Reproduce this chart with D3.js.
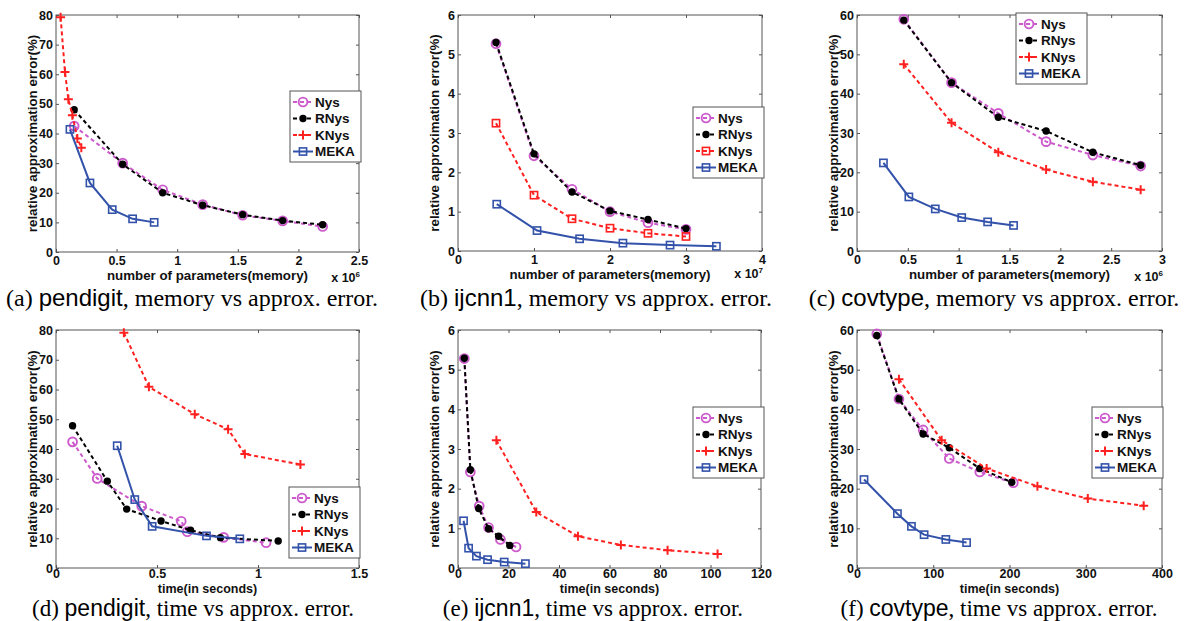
<!DOCTYPE html>
<html><head><meta charset="utf-8">
<script src="https://cdn.jsdelivr.net/npm/d3@7/dist/d3.min.js"></script>
<style>
html,body{margin:0;padding:0;background:#fff;}
svg{display:block;}
</style></head>
<body>
<svg id="chart" width="1185" height="621"></svg>
<script>
// ---------- data ----------
const seriesNames = ["Nys", "RNys", "KNys", "MEKA"];

// (a) pendigit, memory (x 10^6)
const aNys  = [[0.15,42.5],[0.55,30],[0.88,21],[1.21,16],[1.54,12.4],[1.87,10.5],[2.2,8.6]];
const aRNys = [[0.15,48],[0.55,29.6],[0.88,20],[1.21,15.8],[1.54,12.6],[1.87,10.6],[2.2,9.2]];
const aKNys = [[0.038,79.2],[0.074,60.8],[0.102,51.6],[0.135,46.2],[0.176,38.3],[0.209,35.2]];
const aMEKA = [[0.115,41.4],[0.28,23.3],[0.464,14.3],[0.632,11.2],[0.81,10.0]];
// (b) ijcnn1, memory (x 10^7)
const bNys  = [[0.5,5.27],[1,2.42],[1.5,1.57],[2,1.0],[2.5,0.72],[3,0.55]];
const bRNys = [[0.5,5.3],[1,2.47],[1.5,1.5],[2,1.02],[2.5,0.8],[3,0.57]];
const bKNys = [[0.5,3.25],[1,1.42],[1.5,0.82],[2,0.58],[2.5,0.45],[3,0.37]];
const bMEKA = [[0.51,1.19],[1.04,0.52],[1.6,0.31],[2.17,0.2],[2.79,0.15],[3.4,0.12]];
// (c) covtype, memory (x 10^6)
const cNys  = [[0.46,58.9],[0.93,42.8],[1.39,35],[1.86,27.8],[2.32,24.4],[2.79,21.6]];
const cRNys = [[0.46,58.7],[0.93,42.8],[1.39,34],[1.86,30.5],[2.32,25.1],[2.79,21.8]];
const cKNys = [[0.46,47.5],[0.93,32.6],[1.39,25.1],[1.86,20.7],[2.32,17.6],[2.79,15.6]];
const cMEKA = [[0.26,22.4],[0.51,13.75],[0.77,10.7],[1.03,8.5],[1.285,7.4],[1.54,6.5]];
// (d) pendigit, time
const dNys  = [[0.082,42.4],[0.204,30.1],[0.424,20.8],[0.62,15.7],[0.65,12.2],[0.83,10.3],[1.04,8.5]];
const dRNys = [[0.082,47.8],[0.254,29.2],[0.35,19.8],[0.52,15.8],[0.666,12.7],[0.814,10.2],[1.1,9.1]];
const dKNys = [[0.336,79.1],[0.46,60.9],[0.687,51.7],[0.852,46.6],[0.935,38.3],[1.21,34.8]];
const dMEKA = [[0.303,41.1],[0.39,23],[0.476,14.0],[0.745,10.8],[0.91,9.8]];
// (e) ijcnn1, time
const eNys  = [[2.5,5.28],[4.9,2.42],[8.4,1.56],[12.1,1.02],[16.8,0.72],[23,0.53]];
const eRNys = [[2.5,5.29],[4.9,2.48],[8.2,1.5],[12.1,0.99],[16.1,0.8],[20.5,0.57]];
const eKNys = [[15.2,3.22],[31,1.41],[47.5,0.8],[64.5,0.58],[83,0.45],[102.8,0.35]];
const eMEKA = [[2.2,1.19],[4.2,0.5],[7.3,0.3],[11.7,0.21],[18.3,0.15],[26.7,0.11]];
// (f) covtype, time
const fNys  = [[26,59],[55,42.6],[86.7,34.8],[121,27.6],[161,24.2],[205,21.5]];
const fRNys = [[26,58.6],[55,42.6],[86.7,33.8],[121,30.3],[161,25.1],[203,21.6]];
const fKNys = [[55,47.6],[111,32.2],[170,25.1],[236.6,20.6],[302.7,17.5],[376,15.7]];
const fMEKA = [[9.2,22.3],[53,13.7],[71.4,10.5],[88,8.4],[116.5,7.2],[143.7,6.4]];

// tick values
const aXTicks = [0,0.5,1,1.5,2,2.5];
const bXTicks = [0,1,2,3,4];
const cXTicks = [0,0.5,1,1.5,2,2.5,3];
const dXTicks = [0,0.5,1,1.5];
const eXTicks = [0,20,40,60,80,100,120];
const fXTicks = [0,100,200,300,400];
const y80Ticks = [0,10,20,30,40,50,60,70,80];
const y6Ticks  = [0,1,2,3,4,5,6];
const y60Ticks = [0,10,20,30,40,50,60];

const memLabel = "number of parameters(memory)";
const timeLabel = "time(in seconds)";
const yLabel = "relative approximation error(%)";

// ---------- styles ----------
const SANS = "'Liberation Sans', Arial, Helvetica, sans-serif";
const SERIF = "'Liberation Serif', 'Times New Roman', serif";
const style = {
  Nys:  {color:"#cc5acc", dash:"4,3", marker:"circle"},
  RNys: {color:"#000000", dash:"4,3", marker:"dot"},
  KNys: {color:"#ff2020", dash:"4,3", marker:"plus"},
  MEKA: {color:"#3352aa", dash:null,  marker:"square"}
};

// row-level text layout (offsets below plot bottom)
const topRow = {tickPad:4, xlDy:28, xlSize:13.3, capY:306, capSize:24};
const botRow = {tickPad:1.5, xlDy:24.5, xlSize:12.5, capY:616, capSize:23};

const panels = [
  {tag:"(a) ", ds:"pendigit", rest:", memory vs approx. error.", box:[56,15,359,252], xd:[0,2.5], yd:[0,80], xt:aXTicks, yt:y80Ticks, xl:memLabel, row:topRow, mult:"6", multDy:29.5,
   data:{Nys:aNys,RNys:aRNys,KNys:aKNys,MEKA:aMEKA}, leg:[290,91], cap:192},
  {tag:"(b) ", ds:"ijcnn1", rest:", memory vs approx. error.", box:[458,15,762,251], xd:[0,4], yd:[0,6], xt:bXTicks, yt:y6Ticks, xl:memLabel, row:topRow, mult:"7", multDy:27,
   data:{Nys:bNys,RNys:bRNys,KNys:bKNys,MEKA:bMEKA}, leg:[693,107], cap:596, knysMarker:"square"},
  {tag:"(c) ", ds:"covtype", rest:", memory vs approx. error.", box:[857,15,1162,251], xd:[0,3], yd:[0,60], xt:cXTicks, yt:y60Ticks, xl:memLabel, row:topRow, mult:"6", multDy:29.5,
   data:{Nys:cNys,RNys:cRNys,KNys:cKNys,MEKA:cMEKA}, leg:[1016,13], cap:994},
  {tag:"(d) ", ds:"pendigit", rest:", time vs approx. error.", box:[56,330,359,568], xd:[0,1.5], yd:[0,80], xt:dXTicks, yt:y80Ticks, xl:timeLabel, row:botRow, mult:null,
   data:{Nys:dNys,RNys:dRNys,KNys:dKNys,MEKA:dMEKA}, leg:[289,487], cap:193},
  {tag:"(e) ", ds:"ijcnn1", rest:", time vs approx. error.", box:[458,330,761,568], xd:[0,120], yd:[0,6], xt:eXTicks, yt:y6Ticks, xl:timeLabel, row:botRow, mult:null,
   data:{Nys:eNys,RNys:eRNys,KNys:eKNys,MEKA:eMEKA}, leg:[693,407], cap:593},
  {tag:"(f) ", ds:"covtype", rest:", time vs approx. error.", box:[857,330,1162,568], xd:[0,400], yd:[0,60], xt:fXTicks, yt:y60Ticks, xl:timeLabel, row:botRow, mult:null,
   data:{Nys:fNys,RNys:fRNys,KNys:fKNys,MEKA:fMEKA}, leg:[1092,407], cap:999}
];

const svg = d3.select("#chart");
svg.append("rect").attr("width",1185).attr("height",621).attr("fill","#fff");

function drawMarker(g, type, color, cx, cy) {
  if (type === "circle") {
    g.append("circle").attr("cx",cx).attr("cy",cy).attr("r",4.4)
      .attr("fill","none").attr("stroke",color).attr("stroke-width",1.9);
  } else if (type === "dot") {
    g.append("circle").attr("cx",cx).attr("cy",cy).attr("r",3.7).attr("fill",color);
  } else if (type === "plus") {
    g.append("path").attr("d",`M${cx-4.5},${cy}h9M${cx},${cy-4.5}v9`)
      .attr("stroke",color).attr("stroke-width",2).attr("fill","none");
  } else if (type === "square") {
    g.append("rect").attr("x",cx-3.6).attr("y",cy-3.6).attr("width",7.2).attr("height",7.2)
      .attr("fill","none").attr("stroke",color).attr("stroke-width",1.6);
  }
}

panels.forEach(p => {
  const [x0,y0,x1,y1] = p.box;
  const r = p.row;
  const x = d3.scaleLinear().domain(p.xd).range([x0,x1]);
  const y = d3.scaleLinear().domain(p.yd).range([y1,y0]);
  const g = svg.append("g");
  const fmt = d => String(d);

  const axStyle = sel => {
    sel.select(".domain").remove();
    sel.selectAll(".tick line").attr("stroke","#555").attr("stroke-width",1);
    sel.selectAll("text").attr("font-family",SANS).attr("font-weight","bold")
      .attr("font-size",12.5).attr("fill","#111");
  };
  g.append("g").attr("transform",`translate(0,${y1})`)
    .call(d3.axisBottom(x).tickValues(p.xt).tickFormat(fmt).tickSizeInner(-3).tickSizeOuter(0).tickPadding(r.tickPad))
    .call(axStyle);
  g.append("g").attr("transform",`translate(0,${y0})`)
    .call(d3.axisTop(x).tickValues(p.xt).tickFormat("").tickSizeInner(-3).tickSizeOuter(0))
    .call(axStyle);
  g.append("g").attr("transform",`translate(${x0},0)`)
    .call(d3.axisLeft(y).tickValues(p.yt).tickFormat(fmt).tickSizeInner(-3).tickSizeOuter(0).tickPadding(3))
    .call(axStyle);
  g.append("g").attr("transform",`translate(${x1},0)`)
    .call(d3.axisRight(y).tickValues(p.yt).tickFormat("").tickSizeInner(-3).tickSizeOuter(0))
    .call(axStyle);
  g.append("rect").attr("x",x0).attr("y",y0).attr("width",x1-x0).attr("height",y1-y0)
    .attr("fill","none").attr("stroke","#555").attr("stroke-width",1);

  g.append("text").attr("x",(x0+x1)/2).attr("y",y1+r.xlDy).attr("text-anchor","middle")
    .attr("font-family",SANS).attr("font-weight","bold").attr("font-size",r.xlSize).attr("fill","#111")
    .text(p.xl);
  g.append("text").attr("transform",`translate(${x0-19},${(y0+y1)/2}) rotate(-90)`)
    .attr("text-anchor","middle").attr("font-family",SANS).attr("font-weight","bold")
    .attr("font-size",13.3).attr("fill","#111").text(yLabel);
  if (p.mult) {
    const t = g.append("text").attr("x",x1+1).attr("y",y1+p.multDy).attr("text-anchor","end")
      .attr("font-family",SANS).attr("font-weight","bold").attr("font-size",12.5).attr("fill","#111");
    t.append("tspan").text("x 10");
    t.append("tspan").attr("font-size",8).attr("dy",-5).text(p.mult);
  }

  const line = d3.line().x(d => x(d[0])).y(d => y(d[1]));
  seriesNames.forEach(s => {
    const st = style[s];
    const mk = (s === "KNys" && p.knysMarker) ? p.knysMarker : st.marker;
    const pts = p.data[s];
    g.append("path").datum(pts).attr("d",line).attr("fill","none")
      .attr("stroke",st.color).attr("stroke-width",2)
      .attr("stroke-dasharray",st.dash);
    pts.forEach(d => drawMarker(g, mk, st.color, x(d[0]), y(d[1])));
  });

  const [lx,ly] = p.leg;
  const lg = g.append("g");
  lg.append("rect").attr("x",lx).attr("y",ly).attr("width",71).attr("height",71)
    .attr("fill","#fff").attr("stroke","#555").attr("stroke-width",1);
  seriesNames.forEach((s,i) => {
    const st = style[s];
    const mk = (s === "KNys" && p.knysMarker) ? p.knysMarker : st.marker;
    const cy = ly + 11 + i*16.5;
    lg.append("line").attr("x1",lx+3).attr("x2",lx+23).attr("y1",cy).attr("y2",cy)
      .attr("stroke",st.color).attr("stroke-width",2).attr("stroke-dasharray",st.dash);
    drawMarker(lg, mk, st.color, lx+13, cy);
    lg.append("text").attr("x",lx+25).attr("y",cy+4.7)
      .attr("font-family",SANS).attr("font-weight","bold").attr("font-size",13.5).attr("fill","#111")
      .text(s);
  });

  const cap = svg.append("text").attr("x",p.cap).attr("y",r.capY).attr("text-anchor","middle")
    .attr("font-size",r.capSize).attr("fill","#000");
  cap.append("tspan").attr("font-family",SERIF).text(p.tag);
  cap.append("tspan").attr("font-family",SANS).text(p.ds);
  cap.append("tspan").attr("font-family",SERIF).text(p.rest);
});
</script>
</body></html>
